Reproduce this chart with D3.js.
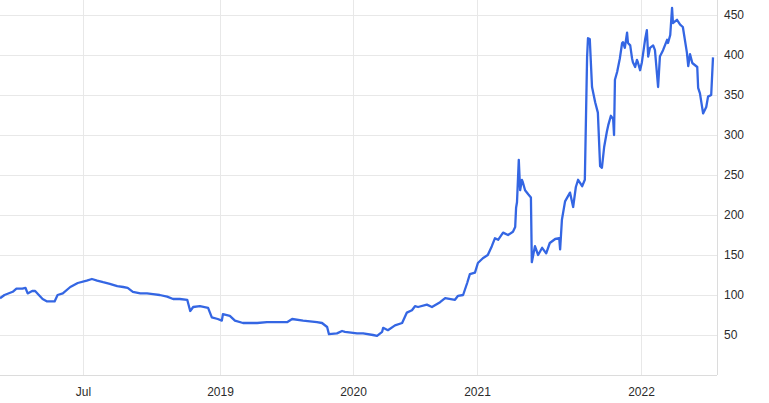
<!DOCTYPE html>
<html>
<head>
<meta charset="utf-8">
<script src="https://cdn.jsdelivr.net/npm/d3@7"></script>
<style>
  body { margin: 0; background: #fff; }
  .tick text { font-family: "Liberation Sans", Arial, sans-serif; font-size: 12px; fill: #2b2b2b; }
  .grid line { stroke: #e8e8e8; }
  .grid path { display: none; }
</style>
</head>
<body>
<script>
// price history
var dates = ["2018-03-12","2018-03-18","2018-03-29","2018-04-03","2018-04-11","2018-04-15","2018-04-18","2018-04-24","2018-04-28","2018-05-02",
  "2018-05-08","2018-05-14","2018-05-24","2018-05-28","2018-06-04","2018-06-14","2018-06-24","2018-07-06","2018-07-13","2018-07-20",
  "2018-07-28","2018-08-06","2018-08-16","2018-08-24","2018-08-30","2018-09-06","2018-09-16","2018-09-25","2018-10-03","2018-10-12",
  "2018-10-22","2018-10-30","2018-11-08","2018-11-18","2018-11-22","2018-11-26","2018-12-05","2018-12-16","2018-12-21","2018-12-29",
  "2019-01-06","2019-01-09","2019-01-28","2019-02-11","2019-03-05","2019-04-13","2019-05-10","2019-07-04","2019-07-18","2019-08-17",
  "2019-09-24","2019-10-08","2019-10-22","2019-10-27","2019-11-18","2019-12-02","2019-12-10","2020-01-13","2020-01-31","2020-02-29",
  "2020-03-12","2020-03-27","2020-03-30","2020-04-13","2020-05-04","2020-05-25","2020-06-08","2020-06-23","2020-07-02","2020-07-11",
  "2020-08-06","2020-08-21","2020-09-14","2020-09-29","2020-10-28","2020-11-06","2020-11-21","2020-12-03","2020-12-11","2020-12-26",
  "2021-01-03","2021-01-14","2021-01-25","2021-02-03","2021-02-10","2021-02-17","2021-02-28","2021-03-11","2021-03-22","2021-03-27",
  "2021-03-29","2021-03-31","2021-04-04","2021-04-07","2021-04-11","2021-04-13","2021-04-18","2021-04-25","2021-05-01","2021-05-03",
  "2021-05-10","2021-05-17","2021-05-26","2021-06-04","2021-06-12","2021-06-24","2021-07-03","2021-07-05","2021-07-09","2021-07-16",
  "2021-07-27","2021-08-03","2021-08-09","2021-08-14","2021-08-23","2021-08-29","2021-09-03","2021-09-05","2021-09-09","2021-09-14",
  "2021-09-21","2021-09-27","2021-10-02","2021-10-06","2021-10-11","2021-10-17","2021-10-20","2021-10-26","2021-10-31","2021-11-02",
  "2021-11-04","2021-11-09","2021-11-15","2021-11-20","2021-11-22","2021-11-26","2021-12-01","2021-12-03","2021-12-08","2021-12-12",
  "2021-12-14","2021-12-19","2021-12-23","2021-12-25","2021-12-30","2022-01-03","2022-01-10","2022-01-14","2022-01-17","2022-01-21",
  "2022-01-28","2022-02-01","2022-02-08","2022-02-12","2022-02-19","2022-02-28","2022-03-02","2022-03-07","2022-03-11","2022-03-13",
  "2022-03-22","2022-03-29","2022-04-04","2022-04-13","2022-04-16","2022-04-20","2022-04-25","2022-05-06","2022-05-08","2022-05-12",
  "2022-05-19","2022-05-26","2022-05-30","2022-06-06","2022-06-10"];

var prices = [96,100,104,108,108,109,102,105,105,101,
  95,92,92,100,102,110,115,118,120,118,
  116,114,111,110,109,104,102,102,101,100,
  98,95,95,94,80,85,86,84,72,70,
  68,76,74,68,65,65,66,66,70,68,
  66,65,60,51,52,55,54,52,52,50,
  49,54,59,56,62,65,78,81,86,85,
  88,85,91,96,94,99,100,115,126,128,
  140,146,150,161,171,169,178,175,179,185,
  209,216,269,231,244,241,231,226,222,141,
  161,150,159,152,165,170,171,157,194,217,
  228,210,235,244,236,244,397,421,420,360,
  341,328,261,259,285,304,312,324,320,300,
  369,379,396,415,416,409,428,415,412,396,
  391,385,394,391,381,391,419,431,398,409,
  412,406,360,398,406,419,415,425,459,440,
  444,438,435,403,386,401,390,385,359,352,
  327,335,348,350,397];

var xTickDates = ["2018-07-01","2019-01-01","2020-01-01","2021-01-01","2022-01-01"];
var xTickLabels = ["Jul","2019","2020","2021","2022"];
var yTicks = [50,100,150,200,250,300,350,400,450];

var svgWidth = 769, svgHeight = 403;
var width = 717, height = 375;

var parse = d3.timeParse("%Y-%m-%d");
var data = dates.map(function(d, i) { return { date: parse(d), value: prices[i] }; });
var tickDates = xTickDates.map(parse);

var svg = d3.select("body").append("svg")
  .attr("width", svgWidth)
  .attr("height", svgHeight);

// the source axis is not even in time, so the scale is piecewise between ticks
var x = d3.scaleTime()
  .domain([data[0].date].concat(tickDates, [data[data.length - 1].date]))
  .range([0, 83, 220, 353, 477, 641, 713]);

var y = d3.scaleLinear()
  .domain([0, 468.75])
  .range([height, 0]);

// grid
svg.append("g")
  .attr("class", "grid")
  .attr("transform", "translate(0," + height + ")")
  .call(d3.axisBottom(x).tickValues(tickDates).tickSize(-height).tickFormat(""));

svg.append("g")
  .attr("class", "grid")
  .call(d3.axisLeft(y).tickValues(yTicks).tickSize(-width).tickFormat(""));

// frame on the right and bottom
svg.append("line")
  .attr("x1", 0).attr("x2", width)
  .attr("y1", height + 0.5).attr("y2", height + 0.5)
  .attr("stroke", "#dcdcdc");
svg.append("line")
  .attr("x1", width + 0.5).attr("x2", width + 0.5)
  .attr("y1", 0).attr("y2", height)
  .attr("stroke", "#dcdcdc");

// axis labels
var xAxis = svg.append("g")
  .attr("transform", "translate(0," + height + ")")
  .call(d3.axisBottom(x).tickValues(tickDates).tickSize(0).tickPadding(12)
    .tickFormat(function(d, i) { return xTickLabels[i]; }));
xAxis.select(".domain").remove();

var yAxis = svg.append("g")
  .attr("transform", "translate(" + width + ",0)")
  .call(d3.axisRight(y).tickValues(yTicks).tickSize(0).tickPadding(7));
yAxis.select(".domain").remove();

// price line
var line = d3.line()
  .x(function(d) { return x(d.date); })
  .y(function(d) { return y(d.value); });

svg.append("path")
  .datum(data)
  .attr("fill", "none")
  .attr("stroke", "#3466e3")
  .attr("stroke-width", 2.3)
  .attr("stroke-linejoin", "round")
  .attr("d", line);
</script>
</body>
</html>
